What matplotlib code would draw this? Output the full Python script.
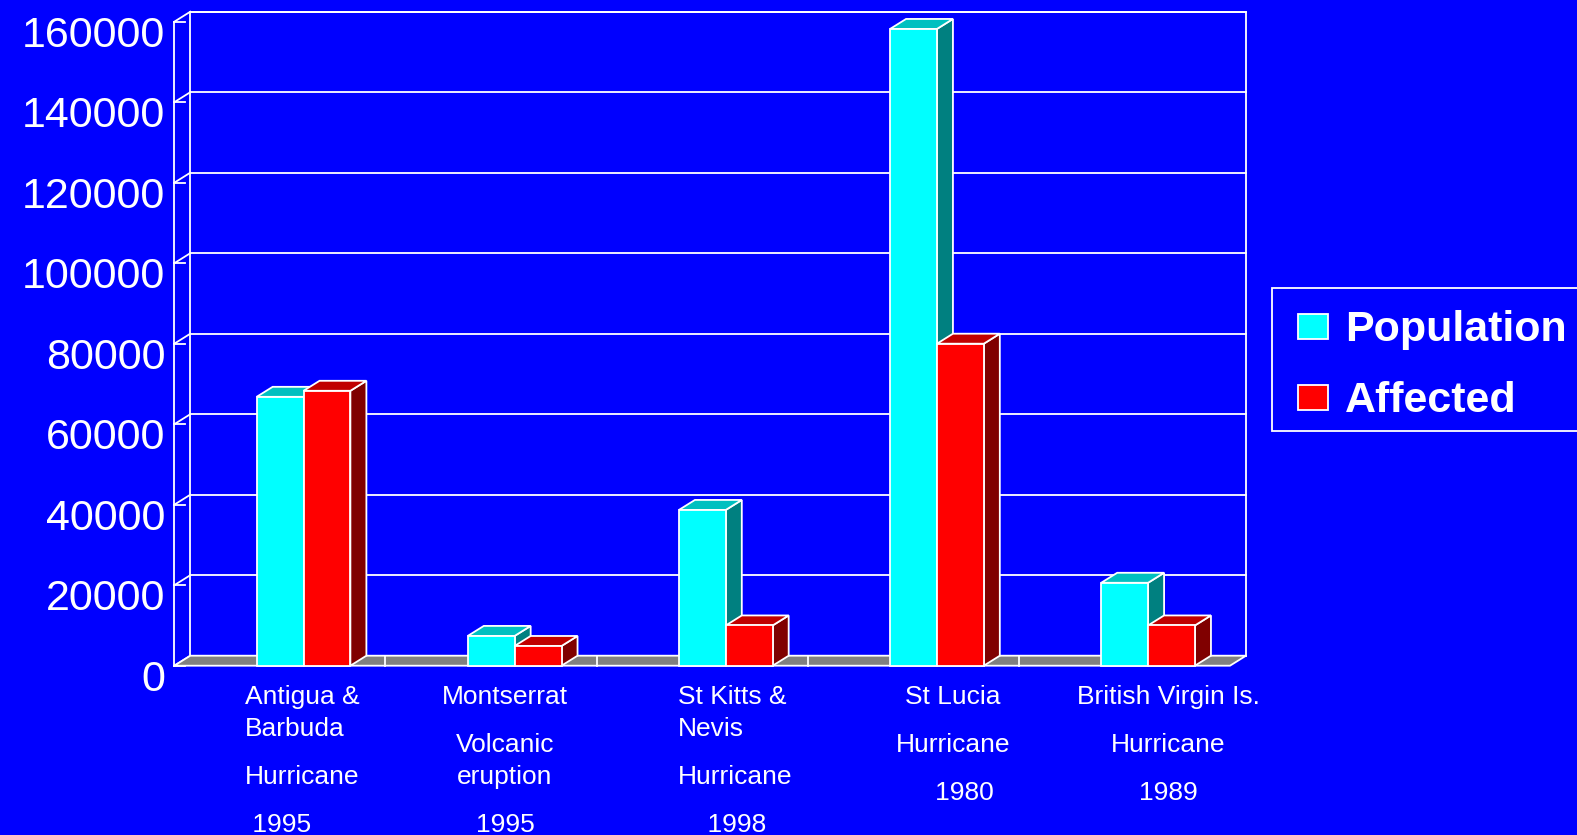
import matplotlib
matplotlib.use("Agg")
import matplotlib.pyplot as plt
from matplotlib.patches import Polygon, Rectangle
from matplotlib.lines import Line2D
from matplotlib.transforms import offset_copy

plt.rcParams['font.family'] = ['Liberation Sans', 'DejaVu Sans']

# Données
population = [66800, 7400, 38700, 158200, 20600]
affected = [68300, 4900, 10000, 80000, 10000]
yticks = [0, 20000, 40000, 60000, 80000, 100000, 120000, 140000, 160000]
series_names = ["Population", "Affected"]

# Libellés des catégories (paragraphes, lignes)
cat_labels = [
    [["Antigua &", "Barbuda"], ["Hurricane"], [" 1995"]],
    [["Montserrat"], ["Volcanic", "eruption"], ["1995"]],
    [["St Kitts &", "Nevis"], ["Hurricane"], ["    1998"]],
    [["St Lucia"], ["Hurricane"], ["   1980"]],
    [["British Virgin Is."], ["Hurricane"], ["1989"]],
]
label_anchor = [(245, 'left'), (505, 'center'), (678, 'left'), (953, 'center'), (1168, 'center')]

W, H = 1577, 835
BLUE = '#0000FF'
fig = plt.figure(figsize=(W / 100, H / 100), dpi=100, facecolor=BLUE)


def fx(x):
    return x / W


def fy(y):
    return 1 - y / H


ax = fig.add_axes([fx(174.3), fy(665.7), (1230 - 174.3) / W, 644 / H])
ax.set_xlim(0, 5)
ax.set_ylim(0, 160000)
ax.axis('off')

dx = 16 / 211.1      # profondeur en unités de catégorie
dy = 10 / 4.025 * 1000  # profondeur en unités de valeur
lw = 1.3
n = len(population)
ymax = yticks[-1]


def poly(pts, fc, z):
    ax.add_patch(Polygon(pts, closed=True, facecolor=fc, edgecolor='white',
                         linewidth=lw, clip_on=False, zorder=z))


def line(xs, ys, z=2):
    ax.add_line(Line2D(xs, ys, color='white', linewidth=lw, clip_on=False, zorder=z))


# Mur du fond + grille
ax.add_patch(Rectangle((dx, dy), n, ymax, facecolor=BLUE, edgecolor='white',
                       linewidth=lw, clip_on=False, zorder=1))
for v in yticks:
    line([dx, n + dx], [v + dy, v + dy])
    line([0, dx], [v, v + dy])
    line([0, 0.05], [v, v])
line([0, 0], [0, ymax])

# Sol
poly([(0, 0), (n, 0), (n + dx, dy), (dx, dy)], '#808080', 3)
for k in range(1, n):
    line([k, k], [0, dy], 3.5)

# Graduations
lab_tr = offset_copy(ax.transData, fig=fig, x=-9, y=-25, units='dots')
for v in yticks:
    ax.text(0, v, str(v), transform=lab_tr, ha='right', va='baseline',
            color='white', fontsize=31)

# Barres 3D
bw = 0.222
start = 0.39
colors = [('#00FFFF', '#00C0C0', '#008080'), ('#FF0000', '#C00000', '#800000')]
z = 5
for i in range(n):
    for j, vals in enumerate([population, affected]):
        x0 = i + start + j * bw
        h = vals[i]
        front, top, side = colors[j]
        poly([(x0 + bw, 0), (x0 + bw + dx, dy), (x0 + bw + dx, h + dy), (x0 + bw, h)], side, z)
        poly([(x0, h), (x0 + bw, h), (x0 + bw + dx, h + dy), (x0 + dx, h + dy)], top, z + 1)
        poly([(x0, 0), (x0 + bw, 0), (x0 + bw, h), (x0, h)], front, z + 2)
        z += 3

# Libellés des catégories
for paras, (xa, ha) in zip(cat_labels, label_anchor):
    y = 685
    for p, para in enumerate(paras):
        if p > 0:
            y += 48
        for l, txt in enumerate(para):
            if l > 0:
                y += 32
            fig.text(fx(xa), fy(y + 19), txt, ha=ha, va='baseline',
                     color='white', fontsize=19)

# Légende
fig.patches.append(Rectangle((fx(1271.7), fy(431)), (1600 - 1271.7) / W, (431 - 288.3) / H,
                             transform=fig.transFigure, facecolor=BLUE, edgecolor='white',
                             linewidth=lw, figure=fig))
for name, (front, _, _), top_y, base_y in zip(series_names, colors, [314, 385], [341, 411.5]):
    fig.patches.append(Rectangle((fx(1298), fy(top_y + 25)), 30 / W, 25 / H,
                                 transform=fig.transFigure, facecolor=front,
                                 edgecolor='white', linewidth=lw, figure=fig))
    fig.text(fx(1345), fy(base_y), name, ha='left', va='baseline', color='white',
             fontsize=31, fontweight='bold')

fig.savefig('out.png', dpi=100, facecolor=BLUE)
